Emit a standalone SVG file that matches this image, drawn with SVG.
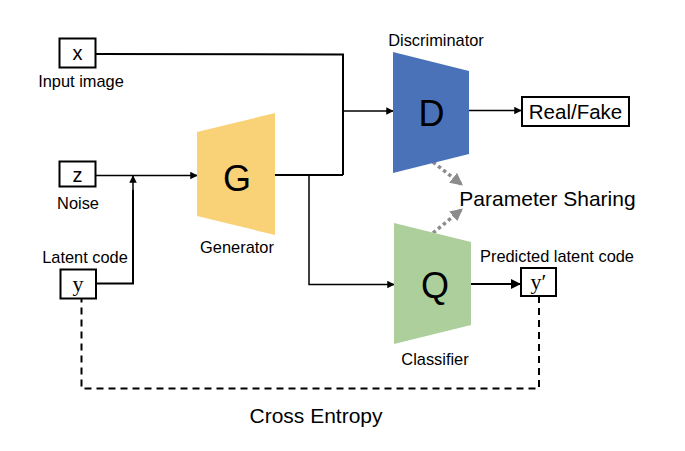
<svg xmlns="http://www.w3.org/2000/svg" width="685" height="451" viewBox="0 0 685 451">
<defs>
<style>
.t{font-family:"Liberation Sans",Arial,sans-serif;fill:#000}
.s{font-size:16.4px}
.box{fill:#fff;stroke:#000;stroke-width:2}
.ln{fill:none;stroke:#000;stroke-width:2}
.ln1{fill:none;stroke:#000;stroke-width:1.5}
.dash{fill:none;stroke:#000;stroke-width:2;stroke-dasharray:7,5}
.dot{fill:none;stroke:#8c8c8c;stroke-width:3.5;stroke-dasharray:3.5,3}
.ser{font-family:"Liberation Serif","Times New Roman",serif;fill:#000}
</style>
<marker id="ah" viewBox="0 0 10 10" refX="9" refY="5" markerWidth="5" markerHeight="5" orient="auto" markerUnits="strokeWidth">
<path d="M0,0 L10,5 L0,10 z" fill="#000"/>
</marker>
<marker id="ahg" viewBox="0 0 10 10" refX="8" refY="5" markerWidth="3.6" markerHeight="3.6" orient="auto" markerUnits="strokeWidth">
<path d="M0,0 L10,5 L0,10 z" fill="#8c8c8c"/>
</marker>
</defs>
<rect width="685" height="451" fill="#fff"/>

<g id="connectors">
<polyline class="ln" points="95,54 343,54.5 343,175"/>
<line class="ln1" x1="343" y1="111" x2="393" y2="111" marker-end="url(#ah)"/>
<line class="ln1" x1="95" y1="175.5" x2="197" y2="175.5" marker-end="url(#ah)"/>
<polyline class="ln" points="96,283.5 133,283.5 133,190"/>
<line class="ln1" x1="133" y1="192" x2="133" y2="176" marker-end="url(#ah)"/>
<line class="ln" x1="275" y1="175" x2="343" y2="175"/>
<polyline class="ln1" points="309,175 309,284.5 394,284.5" marker-end="url(#ah)"/>
<line class="ln1" x1="469" y1="110.5" x2="521" y2="110.5" marker-end="url(#ah)"/>
<line class="ln" x1="471" y1="284" x2="520" y2="284" marker-end="url(#ah)"/>
<polyline class="dash" points="539,296 539,388.5 81.5,388.5 81.5,298"/>
<line class="dot" x1="433" y1="162" x2="461" y2="184" marker-end="url(#ahg)"/>
<line class="dot" x1="433" y1="233" x2="461" y2="210" marker-end="url(#ahg)"/>
</g>

<g id="node-x">
<rect class="box" x="59.5" y="38.5" width="36" height="29"/>
<text class="t" x="77.5" y="60" font-size="20" text-anchor="middle">x</text>
<text class="t s" x="81" y="86.5" text-anchor="middle">Input image</text>
</g>

<g id="node-z">
<rect class="box" x="59.5" y="161.5" width="36" height="25"/>
<text class="t" x="77.5" y="182" font-size="20" text-anchor="middle">z</text>
<text class="t s" x="78" y="208.5" text-anchor="middle">Noise</text>
</g>

<g id="node-y">
<rect class="box" x="60.5" y="269.5" width="35.5" height="29"/>
<text class="ser" x="78" y="291" font-size="22" text-anchor="middle">y</text>
<text class="t s" x="85" y="262.5" text-anchor="middle">Latent code</text>
</g>

<g id="node-G">
<polygon points="197,132 275,113 275,235 197,216" fill="#F9D278"/>
<text class="t" x="237" y="191" font-size="36" text-anchor="middle">G</text>
<text class="t s" x="237" y="252.5" text-anchor="middle">Generator</text>
</g>

<g id="node-D">
<polygon points="393,52 469,71 469,154 393,173" fill="#4A72B9"/>
<text class="t" x="431.5" y="126" font-size="36" text-anchor="middle">D</text>
<text class="t s" x="436" y="45.5" text-anchor="middle">Discriminator</text>
</g>

<g id="node-Q">
<polygon points="394,223 471,242 471,325 394,344" fill="#ADCF9B"/>
<text class="t" x="435" y="298" font-size="36" text-anchor="middle">Q</text>
<text class="t s" x="435" y="364.5" text-anchor="middle">Classifier</text>
</g>

<g id="node-realfake">
<rect class="box" x="522" y="97" width="107" height="29"/>
<text class="t" x="575.5" y="119" font-size="20.5" text-anchor="middle">Real/Fake</text>
</g>

<g id="node-yprime">
<rect class="box" x="521" y="268" width="35" height="28"/>
<text class="ser" x="538.5" y="289" font-size="22" text-anchor="middle">y′</text>
<text class="t s" x="557" y="262" text-anchor="middle">Predicted latent code</text>
</g>

<g id="labels">
<text class="t" x="547.5" y="205.5" font-size="21" text-anchor="middle">Parameter Sharing</text>
<text class="t" x="316" y="423" font-size="21" text-anchor="middle">Cross Entropy</text>
</g>
</svg>
